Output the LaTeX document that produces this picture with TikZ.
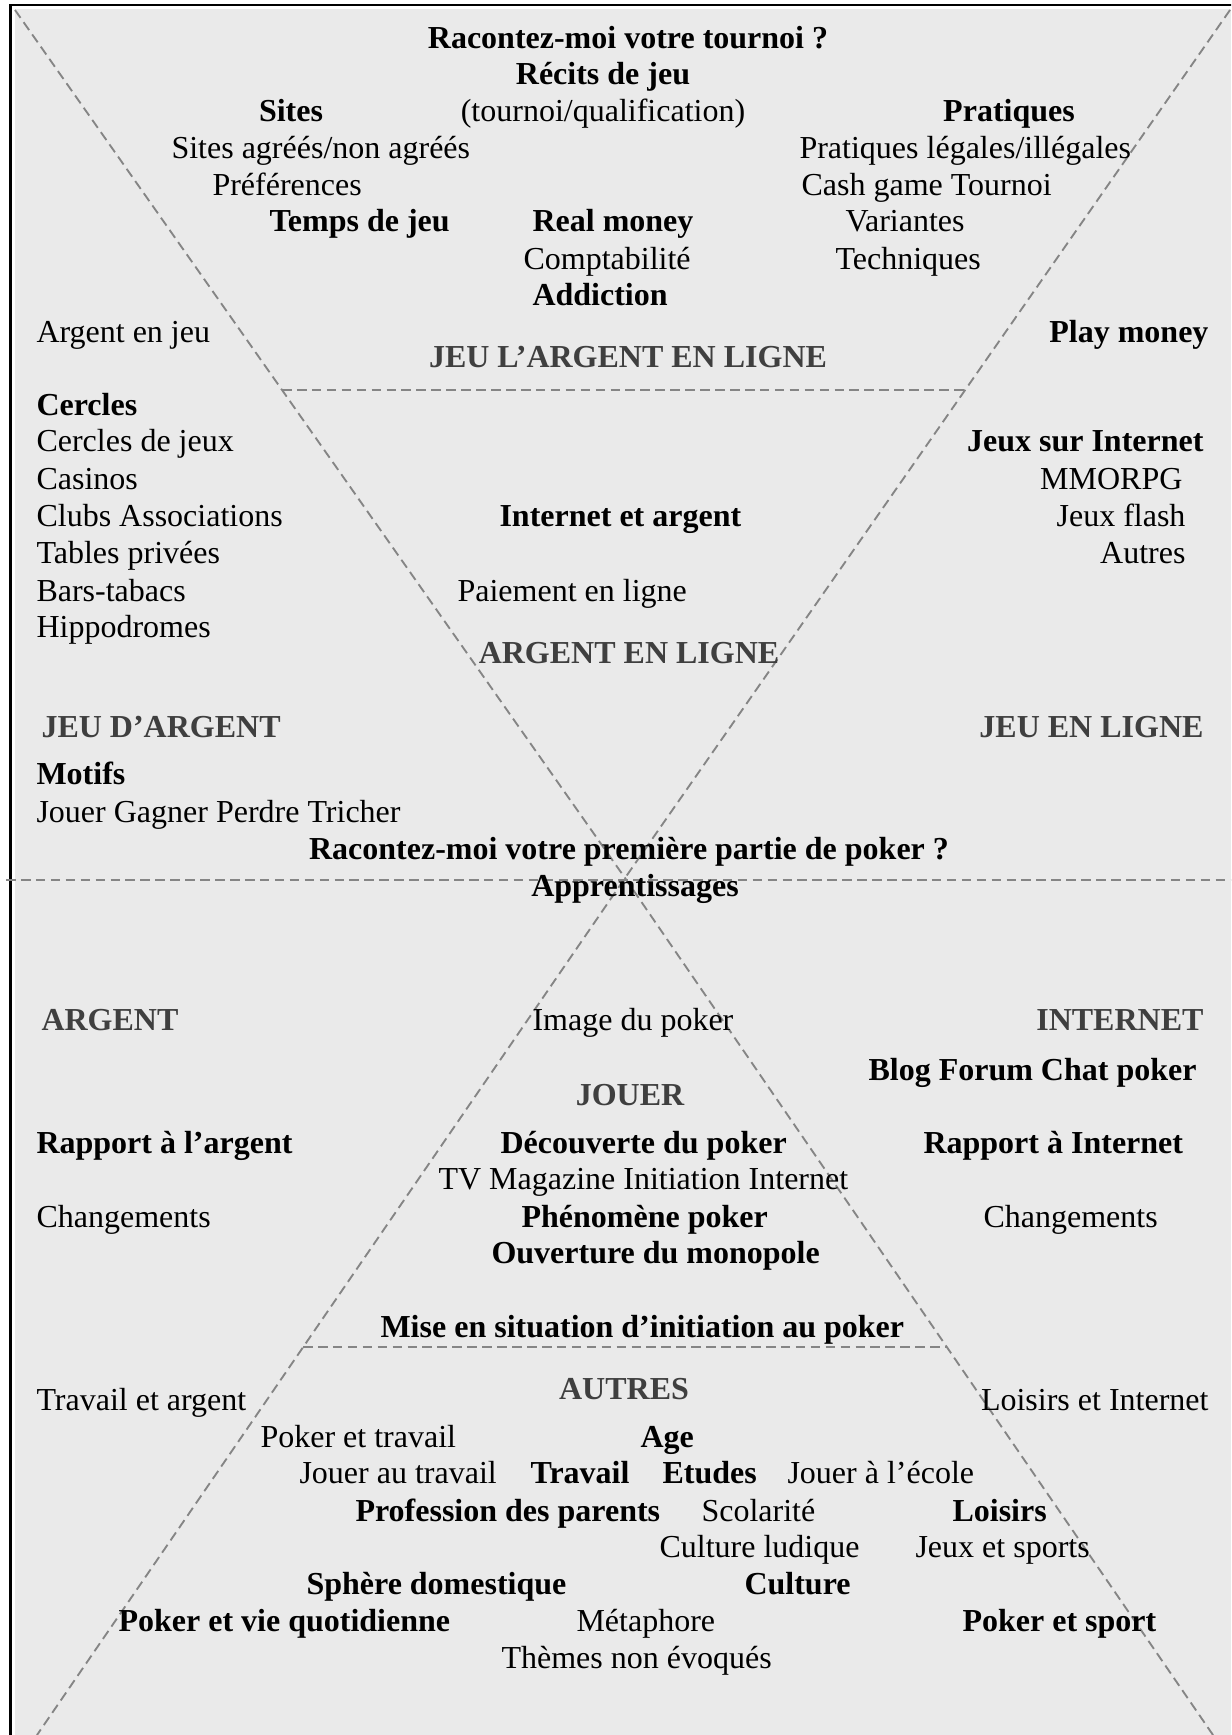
\documentclass[tikz,border=0pt]{standalone}
\usepackage{fontspec}
\setmainfont{Liberation Serif}
\usepackage{xcolor}
\usepackage{tikz}
\definecolor{fondgris}{HTML}{EAEAEA}
\definecolor{tiretgris}{HTML}{858585}
\definecolor{titregris}{HTML}{3F3F3F}

\begin{document}
\begin{tikzpicture}[x=0.375pt,y=-0.375pt,
  txt/.style={inner sep=0pt,font=\fontsize{12}{14}\selectfont},
  g/.style={txt,anchor=base west},
  c/.style={txt,anchor=base},
  d/.style={txt,anchor=base east},
  b/.style={font=\fontsize{12}{14}\selectfont\bfseries},
  titre/.style={b,text=titregris},
  tiret/.style={draw=tiretgris,line width=0.7pt,dash pattern=on 3.6pt off 2pt}]
\useasboundingbox (0,0) rectangle (1231,1735);
\clip (0,0) rectangle (1231,1735);
\fill[fondgris] (15,9) rectangle (1231,1735);
\draw[line width=1.1pt] (10.5,1740) -- (10.5,5) -- (1240,5);
\coordinate (croix) at (625,878);
\draw[tiret] (15,10) -- (croix) -- (1213,1735);
\draw[tiret] (1230,10) -- (croix) -- (37,1735);
\draw[tiret] (282,390) -- (965,390);
\draw[tiret] (303,1347) -- (947,1347);
\draw[tiret] (6,880) -- (1231,880);
% haut
\node[c,b] (tournoi) at (628,49) {Racontez-moi votre tournoi ?};
\node[c,b] (recits) at (603,85) {Récits de jeu};
\node[c,b] (sites) at (291,122) {Sites};
\node[c] (qualif) at (603,122) {(tournoi/qualification)};
\node[c,b] (pratiques) at (1009,122) {Pratiques};
\node[g] (agrees) at (171,159) {Sites agréés/non agréés};
\node[g] (legales) at (799,159) {Pratiques légales/illégales};
\node[g] (preferences) at (212,196) {Préférences};
\node[g] (cashgame) at (801,196) {Cash game Tournoi};
\node[g,b] (temps) at (269,232) {Temps de jeu};
\node[g,b] (realmoney) at (532,232) {Real money};
\node[g] (variantes) at (845,232) {Variantes};
\node[g] (compta) at (523,270) {Comptabilité};
\node[g] (techniques) at (835,270) {Techniques};
\node[g,b] (addiction) at (532,306) {Addiction};
\node[g] (argentjeu) at (36,343) {Argent en jeu};
\node[d,b] (playmoney) at (1209,343) {Play money};
\node[c,titre] (jeuargentligne) at (628,368) {JEU L’ARGENT EN LIGNE};
% milieu
\node[g,b] (cercles) at (36,416) {Cercles};
\node[g] (cerclesjeux) at (36,452) {Cercles de jeux};
\node[d,b] (jeuxinternet) at (1204,452) {Jeux sur Internet};
\node[g] (casinos) at (36,490) {Casinos};
\node[d] (mmorpg) at (1183,490) {MMORPG};
\node[g] (clubs) at (36,527) {Clubs Associations};
\node[g,b] (internetargent) at (499,527) {Internet et argent};
\node[d] (flash) at (1186,527) {Jeux flash};
\node[g] (tables) at (36,563) {Tables privées};
\node[d] (autres) at (1186,563) {Autres};
\node[g] (bars) at (36,601) {Bars-tabacs};
\node[g] (paiement) at (457,601) {Paiement en ligne};
\node[g] (hippo) at (36,637) {Hippodromes};
\node[c,titre] (argentligne) at (629,663) {ARGENT EN LIGNE};
\node[g,titre] (jeuargent) at (41,737) {JEU D’ARGENT};
\node[d,titre] (jeuligne) at (1204,737) {JEU EN LIGNE};
\node[g,b] (motifs) at (36,784) {Motifs};
\node[g] (jouer) at (36,822) {Jouer Gagner Perdre Tricher};
\node[c,b] (premiere) at (629,859) {Racontez-moi votre première partie de poker ?};
\node[c,b] (apprent) at (635,896) {Apprentissages};
% bas
\node[g,titre] (argent) at (41,1030) {ARGENT};
\node[g] (image) at (532,1030) {Image du poker};
\node[d,titre] (internet) at (1204,1030) {INTERNET};
\node[g,b] (blog) at (868,1080) {Blog Forum Chat poker};
\node[c,titre] (jouertitre) at (630,1105) {JOUER};
\node[g,b] (rapportargent) at (36,1153) {Rapport à l’argent};
\node[g,b] (decouverte) at (500,1153) {Découverte du poker};
\node[g,b] (rapportinternet) at (923,1153) {Rapport à Internet};
\node[g] (tv) at (438,1189) {TV Magazine Initiation Internet};
\node[g] (changementsg) at (36,1227) {Changements};
\node[g,b] (phenomene) at (521,1227) {Phénomène poker};
\node[g] (changementsd) at (983,1227) {Changements};
\node[g,b] (monopole) at (491,1263) {Ouverture du monopole};
\node[g,b] (situation) at (380,1337) {Mise en situation d’initiation au poker};
\node[c,titre] (autrestitre) at (624,1399) {AUTRES};
\node[g] (travailargent) at (36,1410) {Travail et argent};
\node[d] (loisirsinternet) at (1209,1410) {Loisirs et Internet};
\node[g] (pokertravail) at (260,1447) {Poker et travail};
\node[g,b] (age) at (640,1447) {Age};
\node[g] (jouertravail) at (299,1483) {Jouer au travail};
\node[g,b] (travail) at (530,1483) {Travail};
\node[g,b] (etudes) at (662,1483) {Etudes};
\node[g] (ecole) at (787,1483) {Jouer à l’école};
\node[g,b] (profession) at (355,1521) {Profession des parents};
\node[g] (scolarite) at (701,1521) {Scolarité};
\node[g,b] (loisirs) at (952,1521) {Loisirs};
\node[g] (ludique) at (659,1557) {Culture ludique};
\node[g] (sports) at (915,1557) {Jeux et sports};
\node[g,b] (domestique) at (306,1594) {Sphère domestique};
\node[g,b] (culture) at (744,1594) {Culture};
\node[g,b] (quotidienne) at (118,1631) {Poker et vie quotidienne};
\node[g] (metaphore) at (576,1631) {Métaphore};
\node[g,b] (pokersport) at (962,1631) {Poker et sport};
\node[g] (themes) at (501,1668) {Thèmes non évoqués};
\end{tikzpicture}
\end{document}
